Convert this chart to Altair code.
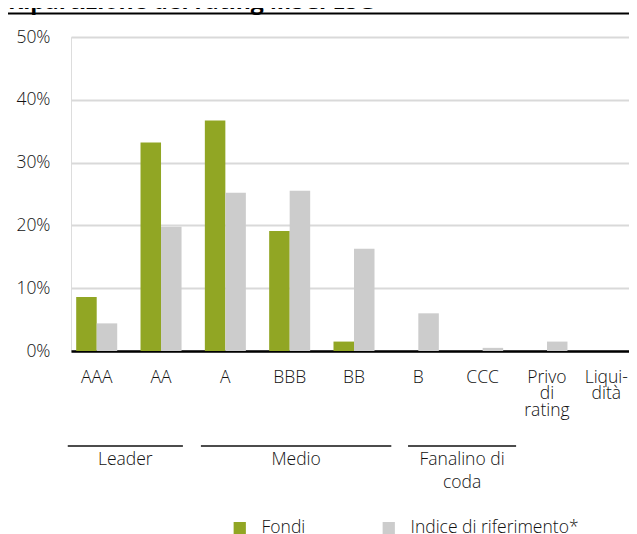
import altair as alt
import pandas as pd

# ---- data ----
categories = ["AAA", "AA", "A", "BBB", "BB", "B", "CCC", "Privo di rating", "Liquidità"]
fondi = [8.6, 33.2, 36.7, 19.1, 1.5, 0.0, 0.0, 0.0, 0.0]
indice = [4.4, 19.8, 25.2, 25.5, 16.3, 6.0, 0.5, 1.5, 0.0]
series_names = ["Fondi", "Indice di riferimento*"]
series_colors = ["#91a624", "#cccccc"]
y_ticks = [0, 10, 20, 30, 40, 50]
group_names = ["Leader", "Medio", "Fanalino di\ncoda"]
# group spans in category-index units
group_start = [-0.45, 1.62, 4.84]
group_end = [1.34, 4.58, 6.52]
title_text = "Ripartizione del rating MSCI ESG"

FONT = "Open Sans"
LW = 300
FS = 17.5
TXT = "#111111"
W, H = 566, 314
PI, PO = 0.3623, 0.0808

rows = []
for c, f, i in zip(categories, fondi, indice):
    rows.append({"cat": c, "serie": series_names[0], "val": f})
    rows.append({"cat": c, "serie": series_names[1], "val": i})
df = pd.DataFrame(rows)

gdf = pd.DataFrame({"grp": group_names, "s": group_start, "e": group_end})
gdf["m"] = (gdf["s"] + gdf["e"]) / 2

n = len(categories)
off = PO + (1 - PI) / 2
qdomain = [-off, n - PI + 2 * PO - off]

label_expr = ("datum.label == 'Privo di rating' ? ['Privo','di','rating'] : "
              "datum.label == 'Liquidità' ? ['Liqui-','dità'] : datum.label")

bars = alt.Chart(df).mark_bar().encode(
    x=alt.X("cat:N", sort=categories, title=None,
            scale=alt.Scale(paddingInner=PI, paddingOuter=PO),
            axis=alt.Axis(labelExpr=label_expr, labelAngle=0, ticks=False,
                          domainColor="black", domainWidth=2.5,
                          labelFont=FONT, labelFontSize=FS, labelFontWeight=LW, labelColor=TXT,
                          labelPadding=17, labelLineHeight=16.5, labelBaseline="top",
                          labelOffset={"condition": {"test": "datum.value == 'Liquidità'", "value": -5},
                                       "value": 0})),
    xOffset=alt.XOffset("serie:N", sort=series_names, scale=alt.Scale(paddingInner=0, paddingOuter=0)),
    y=alt.Y("val:Q", title=None,
            scale=alt.Scale(domain=[0, 50], nice=False),
            axis=alt.Axis(values=y_ticks, labelExpr="datum.value + '%'", domain=False, ticks=False,
                          grid=True, gridColor="#d9d9d9", gridWidth=2,
                          labelFont=FONT, labelFontSize=FS, labelFontWeight=LW, labelColor=TXT,
                          labelPadding=21)),
    color=alt.Color("serie:N", sort=series_names,
                    scale=alt.Scale(domain=series_names, range=series_colors),
                    legend=alt.Legend(title=None, orient="none", legendX=160, legendY=482,
                                      direction="horizontal", symbolType="square", symbolSize=150,
                                      symbolStrokeWidth=0, labelFont=FONT, labelFontSize=FS,
                                      labelFontWeight=LW,
                                      labelColor=TXT, labelOffset=13, columnPadding=74, padding=0,
                                      labelLimit=0)),
)

gx = alt.Scale(domain=qdomain, nice=False, zero=False)
glines = alt.Chart(gdf).mark_rule(color=TXT, strokeWidth=1.5).encode(
    x=alt.X("s:Q", scale=gx, axis=None),
    x2="e:Q",
    y=alt.value(409),
)
gtext = alt.Chart(gdf).mark_text(font=FONT, fontSize=FS, fontWeight=LW, color=TXT, baseline="alphabetic",
                                 lineBreak="\n", lineHeight=23).encode(
    x=alt.X("m:Q", scale=gx, axis=None),
    y=alt.value(428),
    text="grp:N",
)

tdf = pd.DataFrame({"t": [title_text]})
title = alt.Chart(tdf).mark_text(font=FONT, fontSize=23, fontWeight="bold", color="black",
                                 align="left", baseline="alphabetic").encode(
    x=alt.value(-63), y=alt.value(-28), text="t:N")
hline = alt.Chart(tdf).mark_rule(color="black", strokeWidth=2).encode(
    x=alt.value(-63), x2=alt.value(W), y=alt.value(-23.5))

chart = alt.layer(bars, glines, gtext, title, hline).resolve_scale(x="independent").properties(
    width=W, height=H,
    autosize=alt.AutoSizeParams(type="none"),
    padding={"left": 63, "top": 29, "right": -8, "bottom": 183},
).configure_view(stroke=None).configure(background="white")

chart.save("out.html", embed_options={"renderer": "svg", "actions": False})
